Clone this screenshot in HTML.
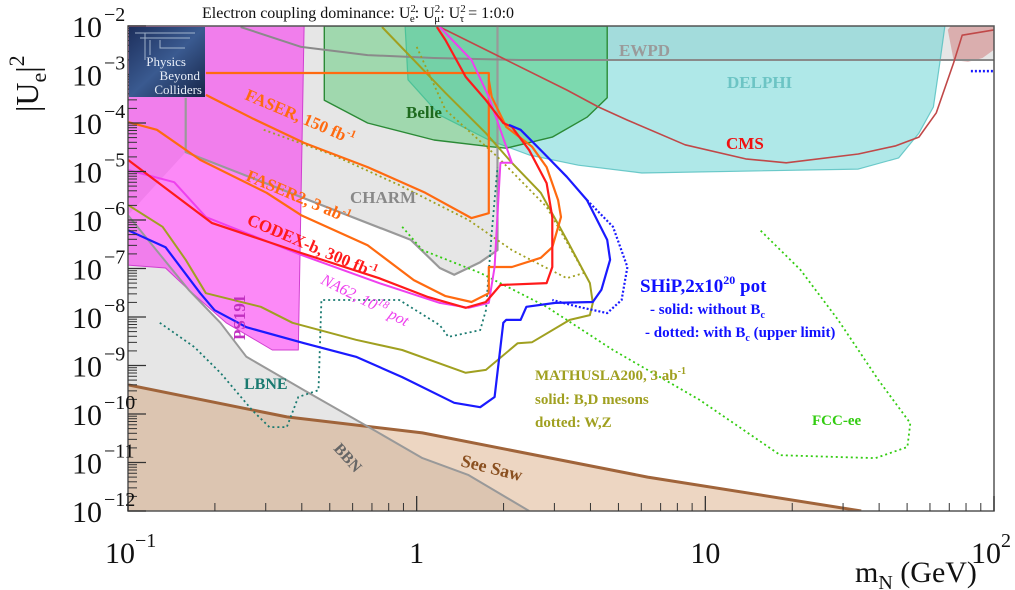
<!DOCTYPE html>
<html><head><meta charset="utf-8">
<style>
html,body{margin:0;padding:0;background:#fff;}
svg{display:block;font-family:"Liberation Serif",serif;}
</style></head>
<body>
<svg id="chart" width="1015" height="590" viewBox="0 0 1015 590" xmlns="http://www.w3.org/2000/svg">
<defs>
<clipPath id="plotclip"><rect x="128" y="26" width="866" height="485"/></clipPath>
<linearGradient id="logog" x1="0" y1="0" x2="1" y2="1"><stop offset="0" stop-color="#1d2f5c"/><stop offset="0.5" stop-color="#3a5a90"/><stop offset="1" stop-color="#162447"/></linearGradient>
</defs>
<g id="plot" clip-path="url(#plotclip)"></g>
<g id="axes"></g>
<g id="labels"></g>
</svg>
<script>
// data: [log10(mN/GeV), log10(|Ue|^2)]
const greyRegion=[[-1,-2],[2,-2],[2,-2.70],[0.28,-2.70],[0.28,-6.62],[0.22,-6.87],[0.13,-7.13],[0.08,-6.99],[-0.02,-6.41],[-0.80,-4.60],[-1,-5.90]];
const charmLine=[[-0.80,-3.48],[-0.80,-4.60],[-0.02,-6.41],[0.08,-6.99],[0.13,-7.13],[0.22,-6.87],[0.28,-6.62],[0.28,-2.0]];
const ewpdLine=[[-0.61,-2.02],[-0.40,-2.43],[-0.17,-2.60],[0.06,-2.66],[0.36,-2.70],[2,-2.70]];
const bbnLine=[[-1,-5.90],[-0.79,-7.44],[-0.68,-8.12],[-0.59,-8.82],[-0.39,-9.51],[-0.16,-10.29],[0.02,-10.91],[0.18,-11.26],[0.39,-12]];
const ps191Region=[[-1,-2],[-0.39,-2],[-0.41,-8.68],[-0.50,-8.68],[-0.66,-8.12],[-0.79,-7.44],[-0.87,-6.99],[-1,-6.93]];
const delphiRegion=[[-0.04,-2],[-0.03,-3.11],[0.08,-3.84],[0.25,-4.35],[0.39,-4.66],[0.56,-4.87],[0.78,-5.03],[1.53,-4.95],[1.67,-4.72],[1.74,-4.21],[1.79,-3.67],[1.81,-2.85],[1.83,-2]];
const belleRegion=[[-0.32,-2],[-0.32,-3.53],[-0.17,-4.00],[0.06,-4.35],[0.26,-4.49],[0.31,-4.52],[0.47,-4.29],[0.59,-3.88],[0.66,-3.48],[0.66,-2]];
const cmsRegion=[[1.85,-2],[2,-2],[2,-2.49],[1.96,-2.66],[1.91,-2.74],[1.86,-2.70],[1.84,-2.08]];
const cmsLine=[[0.08,-2.02],[0.52,-3.32],[0.63,-3.67],[0.73,-3.94],[0.93,-4.45],[1.14,-4.74],[1.28,-4.82],[1.53,-4.64],[1.66,-4.47],[1.74,-4.29],[1.80,-3.79],[1.86,-2.76],[1.89,-2.19],[2,-2.08]];
const shipDottedHigh=[[1.92,-2.93],[2,-2.93]];
const faser150=[[-0.73,-2.97],[0.25,-2.97],[0.25,-5.86],[0.19,-5.96],[0.03,-5.44],[-0.17,-4.91],[-0.39,-4.41],[-0.57,-3.90],[-0.73,-3.42]];
const faser2=[[-1,-3.98],[-0.90,-4.14],[-0.75,-4.76],[-0.52,-5.44],[-0.40,-5.90],[-0.17,-6.52],[-0.01,-7.24],[0.10,-7.57],[0.19,-7.69],[0.25,-7.51],[0.25,-6.97],[0.33,-6.97],[0.43,-6.78],[0.47,-6.56],[0.50,-5.94],[0.49,-5.59],[0.45,-4.91],[0.40,-4.49],[0.31,-4.08],[0.26,-3.46],[0.25,-3.11]];
const codexb=[[-1,-4.76],[-0.71,-6.06],[-0.40,-6.68],[-0.13,-7.20],[0.04,-7.59],[0.17,-7.81],[0.24,-7.69],[0.29,-7.34],[0.45,-7.30],[0.47,-6.97],[0.47,-6.27],[0.47,-5.94],[0.45,-5.24],[0.39,-4.56],[0.33,-4.08],[0.30,-4.00],[0.24,-3.53],[0.17,-3.05],[0.10,-2.29],[0.07,-2.02]];
const na62=[[-1,-4.97],[-0.84,-5.22],[-0.73,-5.94],[-0.40,-6.72],[-0.13,-7.30],[0.08,-7.71],[0.18,-7.81],[0.25,-7.71],[0.27,-6.97],[0.29,-4.82],[0.33,-4.82],[0.25,-3.46],[0.19,-2.70],[0.08,-2.02]];
const shipSolid=[[-1,-6.21],[-0.87,-6.56],[-0.75,-7.51],[-0.70,-7.86],[-0.59,-8.21],[-0.39,-8.54],[-0.21,-8.82],[-0.05,-9.24],[0.13,-9.77],[0.22,-9.86],[0.27,-9.65],[0.30,-8.12],[0.31,-8.06],[0.36,-8.06],[0.38,-7.79],[0.48,-7.71],[0.61,-7.69],[0.64,-7.44],[0.67,-6.82],[0.66,-6.41],[0.59,-5.59],[0.52,-5.11],[0.44,-4.62],[0.36,-4.14],[0.32,-4.04]];
const shipDotted=[[0.59,-5.59],[0.68,-6.14],[0.73,-6.97],[0.71,-7.65],[0.66,-7.92],[0.56,-7.79],[0.47,-7.65]];
const mathuslaSolid=[[-1,-5.69],[-0.88,-6.14],[-0.80,-6.82],[-0.73,-7.51],[-0.54,-7.79],[-0.43,-8.12],[-0.21,-8.47],[-0.05,-8.68],[0.17,-9.15],[0.24,-9.09],[0.35,-8.54],[0.40,-8.52],[0.53,-8.06],[0.60,-7.96],[0.61,-7.71],[0.60,-7.30],[0.52,-6.41],[0.43,-5.44],[0.33,-4.82],[0.24,-4.21],[0.10,-3.38],[-0.12,-2.02]];
const mathuslaDotted=[[-0.53,-4.14],[-0.29,-4.66],[-0.06,-5.28],[0.18,-6.00],[0.33,-6.62],[0.45,-6.99],[0.52,-7.20],[0.58,-7.09],[0.56,-6.87],[0.45,-5.73],[0.28,-4.70],[0.10,-3.73],[0.00,-2.43]];
const fccee=[[-0.05,-6.14],[0.02,-6.62],[0.22,-7.09],[0.45,-7.79],[0.68,-8.68],[0.98,-9.71],[1.26,-10.85],[1.48,-10.89],[1.59,-10.91],[1.70,-10.68],[1.71,-10.19],[1.60,-9.30],[1.46,-8.06],[1.33,-7.03],[1.19,-6.21]];
const lbne=[[-0.89,-8.12],[-0.77,-8.62],[-0.68,-9.15],[-0.57,-9.92],[-0.51,-10.27],[-0.45,-10.27],[-0.41,-9.65],[-0.34,-9.51],[-0.33,-7.65],[-0.06,-7.65],[0.08,-8.17],[0.11,-8.41],[0.22,-8.27],[0.24,-7.86],[0.26,-6.27],[0.28,-4.91]];
const seesaw=[[-1,-9.40],[-0.45,-10.06],[0.02,-10.39],[0.80,-11.30],[1.54,-12]];
const yTickExps=[-2,-3,-4,-5,-6,-7,-8,-9,-10,-11,-12];
const xTickExps=[-1,0,1,2];
const xTickLabels=["10","1","10","10"];
const xTickSup=["−1","","","2"];

const X0=128,X1=994,Y0=26,Y1=511;
const xs=lm=>X0+(lm-(-1))*(X1-X0)/3;
const ys=lu=>Y0+(-2-lu)*(Y1-Y0)/10;
const NS="http://www.w3.org/2000/svg";
const plot=document.getElementById('plot');
const axes=document.getElementById('axes');
function pts(a){return a.map(p=>xs(p[0]).toFixed(1)+','+ys(p[1]).toFixed(1)).join(' ');}
function mk(tag,attrs,parent){const e=document.createElementNS(NS,tag);for(const k in attrs)e.setAttribute(k,attrs[k]);parent.appendChild(e);return e;}
function poly(a,fill,stroke,sw,name,dash){
  const e=mk(dash===undefined&&fill!=='none'?'polygon':'polyline',{points:pts(a),fill:fill,stroke:stroke||'none','stroke-width':sw||0,'stroke-linejoin':'round'},plot);
  if(dash)e.setAttribute('stroke-dasharray',dash);
  
  
  return e;
}
poly(greyRegion,'#e6e6e6',null,0,'charm-ewpd-excluded-region');
{const a=bbnLine.concat([[-1,-12]]);poly(a,'#e6e6e6',null,0,'bbn-excluded-region');}
poly(delphiRegion,'rgba(95,210,210,0.5)','rgba(80,190,190,0.8)',1.2,'delphi-region');
poly(belleRegion,'rgba(30,190,70,0.35)','#2b8a36',1.4,'belle-region');
poly(ps191Region,'rgba(250,40,240,0.55)','#d040d0',1,'ps191-region');
poly(cmsRegion,'rgba(200,90,90,0.4)',null,0,'cms-region');
{const a=seesaw.concat([[1.54,-12],[-1,-12]]);poly(a,'rgba(200,130,70,0.33)',null,0,'seesaw-region');}
poly(seesaw,'none','#a0643a',3,'seesaw-line');
poly(bbnLine,'none','#999',2,'bbn-line');
poly(charmLine,'none','#999',2.2,'charm-line');
poly(ewpdLine,'none','#8a8a8a',2,'ewpd-line');
poly(cmsLine,'none','#c04848',1.6,'cms-line');
poly(shipDottedHigh,'none','#1a1aff',2.5,'ship-dotted-highmass','2,2');
poly(fccee,'none','#33cc11',1.8,'fccee-line','2,3');
poly(mathuslaDotted,'none','#a0a020',1.8,'mathusla-dotted-line','2,3');
poly(lbne,'none','#1a7a70',1.8,'lbne-line','2,3');
poly(mathuslaSolid,'none','#a0a020',2,'mathusla-solid-line');
poly(faser150,'none','#ff6a10',2.2,'faser-150-line');
poly(faser2,'none','#ff6a10',2.2,'faser2-line');
poly(na62,'none','#ee40ee',2,'na62-line');
poly(codexb,'none','#ff1a1a',2.2,'codexb-line');
poly(shipSolid,'none','#1a1aff',2.2,'ship-solid-line');
poly(shipDotted,'none','#1a1aff',2.2,'ship-dotted-line','2,2');

// frame
const fr=mk('rect',{x:X0,y:Y0,width:X1-X0,height:Y1-Y0,fill:'none',stroke:'#555','stroke-width':1.5},axes);


// y ticks
yTickExps.forEach(e=>{
  const y=ys(e);
  const t=mk('line',{x1:X0,x2:X0+18,y1:y,y2:y,stroke:'#333','stroke-width':1.3},axes);
  
  
  if(e>-12){for(let k=2;k<=9;k++){const yy=ys(e-1+Math.log10(k));const m=mk('line',{x1:X0,x2:X0+9,y1:yy,y2:yy,stroke:'#333','stroke-width':1},axes);
    
    }}
  const tx=mk('text',{x:102,y:y+11,'font-size':30,'text-anchor':'end',fill:'#111'},axes);
  
  
  tx.textContent='10';
  const sp=mk('text',{x:104,y:y-5,'font-size':20,fill:'#111'},axes);
  
  
  sp.textContent='−'+(-e);
});
// x ticks
xTickExps.forEach((e,i)=>{
  const x=xs(e);
  const t=mk('line',{x1:x,x2:x,y1:Y1,y2:Y1-15,stroke:'#333','stroke-width':1.3},axes);
  
  
  if(e<2){for(let k=2;k<=9;k++){const xx=xs(e+Math.log10(k));const m=mk('line',{x1:xx,x2:xx,y1:Y1,y2:Y1-8,stroke:'#333','stroke-width':1},axes);
    
    }}
  const off=xTickSup[i]?-8:0;
  const tx=mk('text',{x:x+off,y:563,'font-size':30,'text-anchor':'middle',fill:'#111'},axes);
  
  
  tx.textContent=xTickLabels[i];
  if(xTickSup[i]){const sp=mk('text',{x:x+off+15,y:547,'font-size':20,fill:'#111'},axes);
    
    
    sp.textContent=xTickSup[i];}
});
</script>
<script>
// labels (static annotations)
const L=document.getElementById('labels');
L.innerHTML=`
<g>
<rect x="129" y="27" width="76" height="70" fill="url(#logog)"/>
<path d="M135 33 H195 M140 38 H190 M145 33 V60 M150 40 V55 M160 40 V48 H185" stroke="#bcd" stroke-width="1" fill="none" opacity="0.8"/>
<text x="186" y="66" font-size="13" fill="#e8eef8" text-anchor="end">Physics</text>
<text x="200" y="80" font-size="13" fill="#e8eef8" text-anchor="end">Beyond</text>
<text x="202" y="94" font-size="13" fill="#e8eef8" text-anchor="end">Colliders</text>
</g>
<text x="202" y="18" font-size="16" fill="#111">Electron coupling dominance: U<tspan font-size="11" dy="-6">2</tspan><tspan font-size="11" dx="-6" dy="10">e</tspan><tspan dy="-4">: U</tspan><tspan font-size="11" dy="-6">2</tspan><tspan font-size="11" dx="-6" dy="10">μ</tspan><tspan dy="-4">: U</tspan><tspan font-size="11" dy="-6">2</tspan><tspan font-size="11" dx="-6" dy="10">τ</tspan><tspan dy="-4"> = 1:0:0</tspan></text>
<g transform="translate(38,112) rotate(-90)"><text font-size="32" fill="#111">|U<tspan font-size="22" dy="8">e</tspan><tspan dy="-8">|</tspan><tspan font-size="22" dy="-14">2</tspan></text></g>
<text x="855" y="582" font-size="30" fill="#111">m<tspan font-size="20" dy="7">N</tspan><tspan dy="-7"> (GeV)</tspan></text>
<text x="619" y="56" font-size="17" font-weight="bold" fill="#9a9a9a">EWPD</text>
<text x="727" y="88" font-size="17" font-weight="bold" fill="#6cc4c4">DELPHI</text>
<text x="406" y="118" font-size="17" font-weight="bold" fill="#1e6a1e">Belle</text>
<text x="726" y="149" font-size="17" font-weight="bold" fill="#f01010">CMS</text>
<text x="350" y="203" font-size="17" font-weight="bold" fill="#888">CHARM</text>
<text transform="translate(244,99) rotate(23)" font-size="17" font-weight="bold" fill="#ff6a10">FASER, 150 fb<tspan font-size="11" dy="-7">-1</tspan></text>
<text transform="translate(245,180) rotate(23)" font-size="17" font-weight="bold" fill="#ff6a10">FASER2, 3 ab<tspan font-size="11" dy="-7">-1</tspan></text>
<text transform="translate(246,224) rotate(23)" font-size="17" font-weight="bold" fill="#ff1a1a">CODEX-b, 300 fb<tspan font-size="11" dy="-7">-1</tspan></text>
<text transform="translate(320,283) rotate(27)" font-size="16" font-style="italic" fill="#ee40ee">NA62, 10<tspan font-size="11" dy="-7">18</tspan><tspan dy="7"> pot</tspan></text>
<text transform="translate(245,340) rotate(-90)" font-size="17" font-weight="bold" fill="#c030c0">PS191</text>
<text x="244" y="389" font-size="16" font-weight="bold" fill="#1a7a70">LBNE</text>
<text transform="translate(333,449) rotate(48)" font-size="16" font-weight="bold" fill="#666">BBN</text>
<text transform="translate(460,466) rotate(14)" font-size="18" font-weight="bold" fill="#8a5020">See Saw</text>
<g fill="#1010ff" font-weight="bold">
<text x="640" y="292" font-size="19">SHiP,2x10<tspan font-size="12" dy="-8">20</tspan><tspan dy="8"> pot</tspan></text>
<text x="650" y="314" font-size="15">- solid:  without B<tspan font-size="10" dy="4">c</tspan></text>
<text x="645" y="337" font-size="15">- dotted: with B<tspan font-size="10" dy="4">c</tspan><tspan dy="-4"> (upper limit)</tspan></text>
</g>
<g fill="#a0a020" font-weight="bold" font-size="15">
<text x="535" y="380">MATHUSLA200, 3 ab<tspan font-size="10" dy="-6">-1</tspan></text>
<text x="535" y="404">solid: B,D mesons</text>
<text x="535" y="427">dotted: W,Z</text>
</g>
<text x="812" y="425" font-size="15" font-weight="bold" fill="#33cc11">FCC-ee</text>
`;
</script>
</body></html>
